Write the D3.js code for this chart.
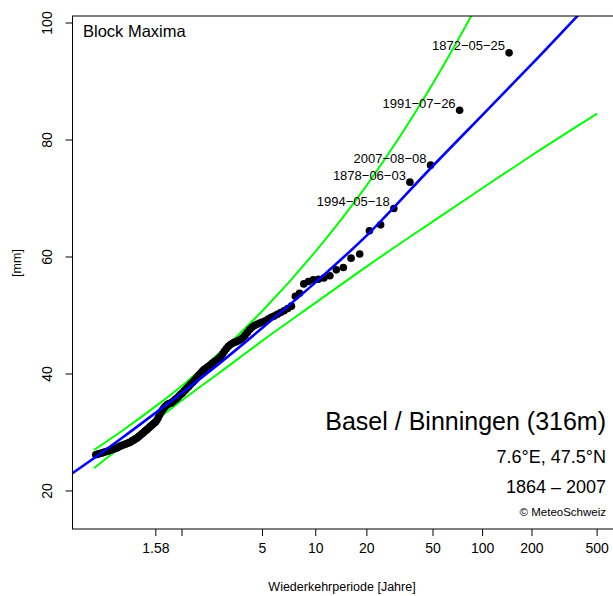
<!DOCTYPE html>
<html><head><meta charset="utf-8">
<script src="https://cdn.jsdelivr.net/npm/d3@7"></script>
<style>
html,body{margin:0;padding:0;background:#fff;}
svg{display:block;font-family:"Liberation Sans",Arial,Helvetica,sans-serif;}
</style></head>
<body>
<script>
// Observed block maxima (sorted) and their return periods [years]
const returnPeriods = [1.107,1.115,1.124,1.133,1.142,1.151,1.160,1.169,1.179,1.189,1.198,1.208,1.218,1.229,1.239,1.250,1.261,1.272,1.283,1.295,1.306,1.318,1.330,1.343,1.355,1.368,1.381,1.394,1.408,1.422,1.436,1.450,1.465,1.480,1.495,1.510,1.526,1.543,1.559,1.576,1.593,1.611,1.629,1.648,1.667,1.686,1.706,1.726,1.747,1.768,1.790,1.813,1.835,1.859,1.883,1.908,1.933,1.959,1.986,2.014,2.042,2.071,2.101,2.132,2.164,2.197,2.231,2.266,2.302,2.339,2.377,2.417,2.458,2.500,2.544,2.589,2.636,2.685,2.736,2.788,2.843,2.900,2.959,3.021,3.085,3.152,3.222,3.295,3.372,3.452,3.537,3.625,3.718,3.816,3.919,4.028,4.143,4.265,4.394,4.531,4.677,4.833,5.000,5.179,5.370,5.577,5.800,6.042,6.304,6.591,6.905,7.250,7.632,8.056,8.529,9.063,9.667,10.357,11.154,12.083,13.182,14.500,16.111,18.125,20.714,24.167,29.000,36.250,48.333,72.500,145.000];
const maxima = [26.2,26.3,26.4,26.5,26.6,26.7,26.8,26.9,27.0,27.1,27.2,27.3,27.4,27.6,27.7,
27.8,27.9,28.0,28.1,28.2,28.3,28.4,28.6,28.7,28.9,29.0,29.2,
29.4,29.6,29.8,30.0,30.2,30.4,30.6,30.8,31.0,31.2,
31.4,31.6,31.8,32.1,32.5,33.0,33.4,33.8,34.1,34.4,
34.6,34.8,34.9,35.0,35.1,35.3,35.5,35.7,35.9,36.1,
36.4,36.6,36.8,37.1,37.3,37.6,37.8,38.1,38.4,38.6,
38.9,39.2,39.5,39.8,40.1,40.4,40.7,40.9,41.1,41.3,
41.5,41.8,42.0,42.2,42.4,42.7,43.0,43.4,43.9,44.3,
44.7,45.0,45.2,45.4,45.5,45.7,45.9,46.2,46.6,47.1,
47.6,48.0,48.3,48.5,48.7,48.9,49.1,49.4,49.7,49.9,
50.2,50.5,50.8,51.2,51.6,53.3,53.8,55.4,55.8,56.1,
56.2,56.4,56.8,57.8,58.2,59.8,60.5,64.5,65.5,68.3,
72.8,75.7,85.1,94.9];
// dates of the largest events (from largest down)
const eventDates = ["1872\u221205\u221225","1991\u221207\u221226","2007\u221208\u221208","1878\u221206\u221203","1994\u221205\u221218"];

// Fitted return level curve
const fitT  = [1.04,1.1,1.25,1.58,2,3,5,10,20,50,100,200,500];
const fitMM = [23.0,25.6,29.1,33.4,36.8,41.9,47.9,55.7,63.7,75.6,84.3,93.0,104.8];
// Confidence band
const ciT     = [1.1,1.25,1.58,2,3,5,10,20,50,100,200,500];
const upperMM = [27.0,30.3,34.5,38.0,43.7,50.8,61.0,72.3,89.7,104.9,122.4,149.5];
const lowerMM = [23.9,27.7,32.1,35.5,40.3,45.7,52.2,58.4,66.1,71.8,77.4,84.5];

const xTickValues = [1.58,2,5,10,20,50,100,200,500];
const xTickLabels = ["1.58","","5","10","20","50","100","200","500"];
const yTickValues = [20,40,60,80,100];

const W = 613, H = 596;
const L = 72.5, R = 625, T = 16, B = 529;

// Gumbel reduced variate of a return period
const gumbel = t => -Math.log(-Math.log(1 - 1/t));
const gx = d3.scaleLinear().domain([-1.176, 6.606]).range([L, R]);
const x = t => gx(gumbel(t));
const y = d3.scaleLinear().domain([13.5, 101.2]).range([B, T]);

const svg = d3.select("body").append("svg").attr("width", W).attr("height", H);
svg.append("defs").append("clipPath").attr("id","clip")
  .append("rect").attr("x",L).attr("y",T).attr("width",R-L).attr("height",B-T);

const plot = svg.append("g").attr("clip-path","url(#clip)");
const line = d3.line().x(d=>x(d[0])).y(d=>y(d[1])).curve(d3.curveMonotoneX);

plot.append("path").datum(ciT.map((t,i)=>[t,upperMM[i]]))
  .attr("d",line).attr("fill","none").attr("stroke","#00ff00").attr("stroke-width",2);
plot.append("path").datum(ciT.map((t,i)=>[t,lowerMM[i]]))
  .attr("d",line).attr("fill","none").attr("stroke","#00ff00").attr("stroke-width",2);

plot.selectAll("circle.obs").data(returnPeriods.map((t,i)=>[t,maxima[i]]))
  .enter().append("circle").attr("class","obs")
  .attr("cx",d=>x(d[0])).attr("cy",d=>y(d[1])).attr("r",3.8).attr("fill","#000");

plot.append("path").datum(fitT.map((t,i)=>[t,fitMM[i]]))
  .attr("d",line).attr("fill","none").attr("stroke","#0000ff").attr("stroke-width",2.6);

// labels of largest events
const n = maxima.length;
eventDates.forEach((lab,k)=>{
  const t = returnPeriods[n-1-k], v = maxima[n-1-k];
  svg.append("text").attr("x",x(t)-4).attr("y",y(v)-2.5)
    .attr("text-anchor","end").attr("font-size",13).attr("fill","#000").text(lab);
});

// frame (left, top, bottom visible)
svg.append("rect").attr("x",L).attr("y",T).attr("width",R-L).attr("height",B-T)
  .attr("fill","none").attr("stroke","#000").attr("stroke-width",1);

// x axis
const xa = svg.append("g");
xTickValues.forEach((t,i)=>{
  xa.append("line").attr("x1",x(t)).attr("x2",x(t)).attr("y1",B).attr("y2",B+7)
    .attr("stroke","#000");
  if (xTickLabels[i]) xa.append("text").attr("x",x(t)).attr("y",553)
    .attr("text-anchor","middle").attr("font-size",14).text(xTickLabels[i]);
});
svg.append("text").attr("x",342).attr("y",590.5).attr("text-anchor","middle")
  .attr("font-size",12.5).text("Wiederkehrperiode [Jahre]");

// y axis
const ya = svg.append("g");
yTickValues.forEach(v=>{
  ya.append("line").attr("x1",L-7).attr("x2",L).attr("y1",y(v)).attr("y2",y(v)).attr("stroke","#000");
  ya.append("text").attr("transform",`translate(52,${y(v)}) rotate(-90)`)
    .attr("text-anchor","middle").attr("font-size",14).text(v);
});
svg.append("text").attr("transform","translate(20.5,263) rotate(-90)")
  .attr("text-anchor","middle").attr("font-size",12.5).text("[mm]");

// annotations
svg.append("text").attr("x",83).attr("y",37).attr("font-size",16.5).text("Block Maxima");
svg.append("text").attr("x",606).attr("y",430).attr("text-anchor","end").attr("font-size",25).text("Basel / Binningen (316m)");
svg.append("text").attr("x",606).attr("y",462.5).attr("text-anchor","end").attr("font-size",18).text("7.6°E, 47.5°N");
svg.append("text").attr("x",606).attr("y",493).attr("text-anchor","end").attr("font-size",18).text("1864 \u2013 2007");
svg.append("text").attr("x",606).attr("y",515.5).attr("text-anchor","end").attr("font-size",11.5).text("© MeteoSchweiz");
</script>
</body></html>
